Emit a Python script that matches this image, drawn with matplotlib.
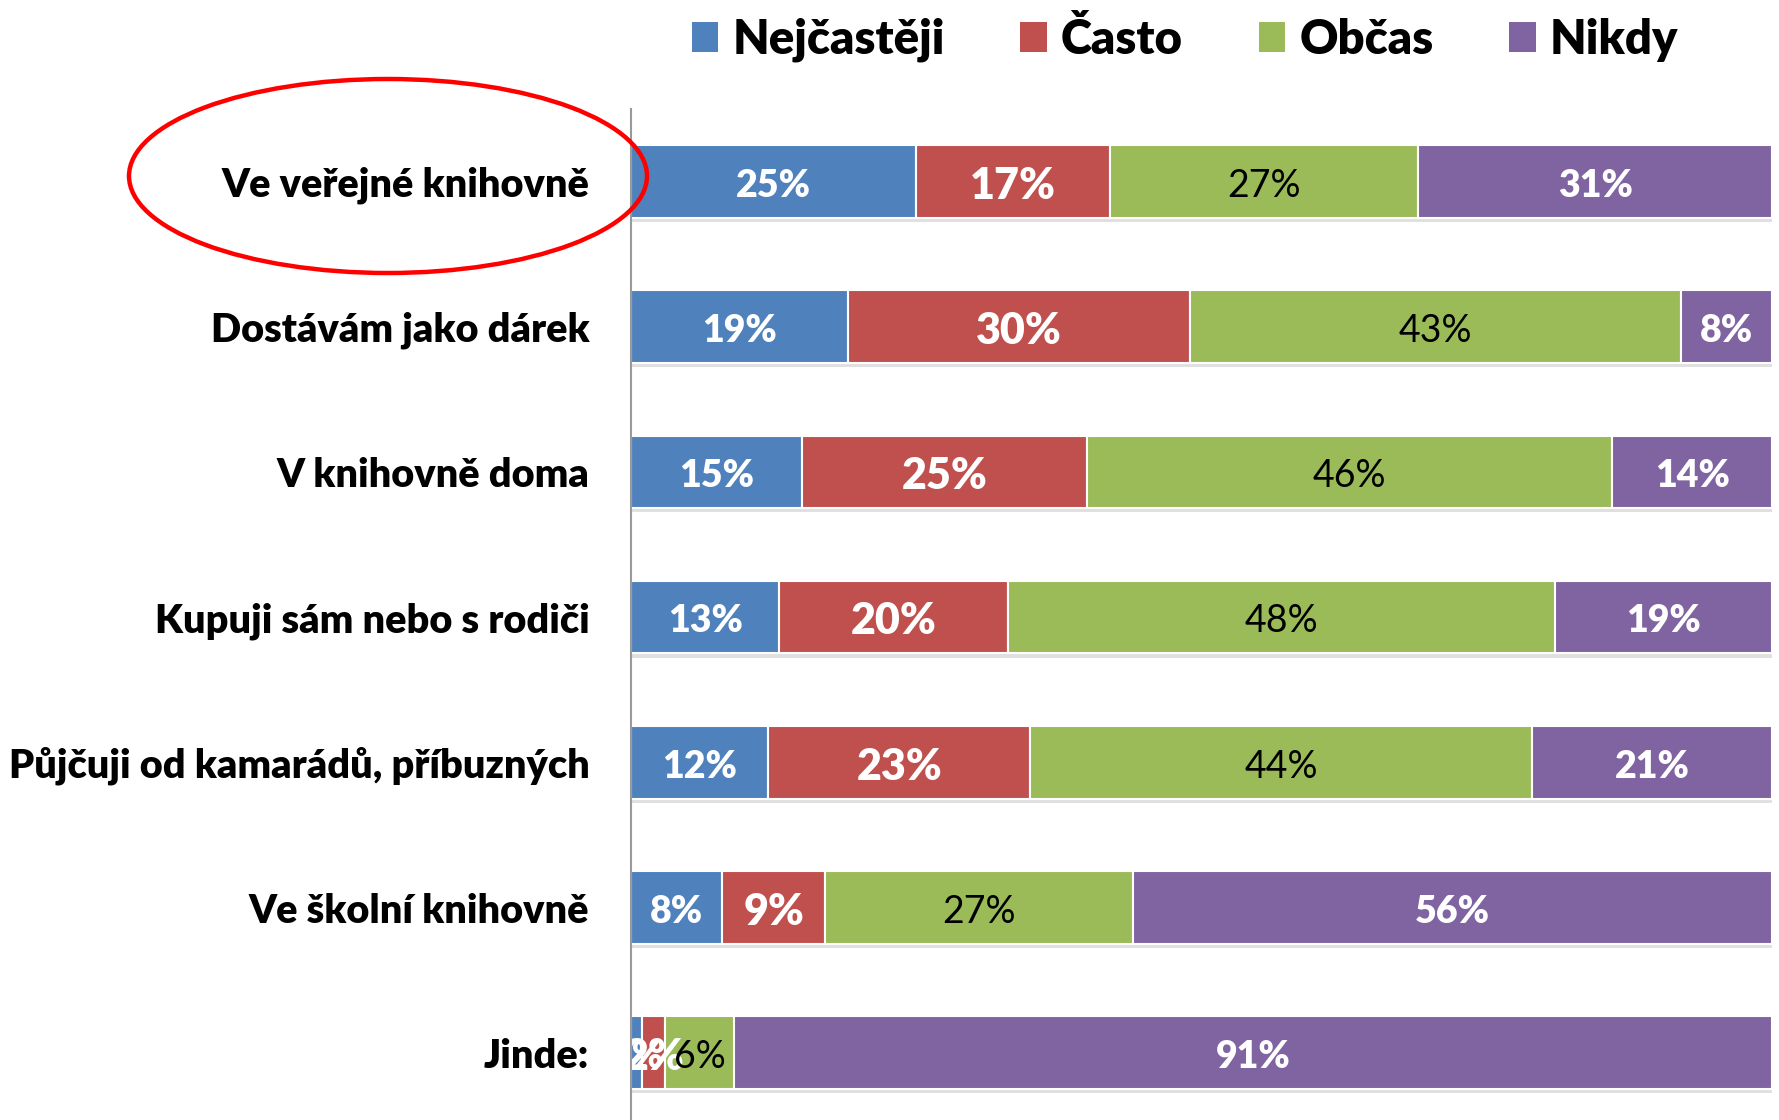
import matplotlib
matplotlib.use('Agg')
import matplotlib.pyplot as plt
import matplotlib.patheffects as pe
from matplotlib.patches import Patch, Ellipse
import numpy as np

plt.rcParams['font.family'] = ['Lato', 'DejaVu Sans']

categories = ['Ve veřejné knihovně', 'Dostávám jako dárek', 'V knihovně doma',
              'Kupuji sám nebo s rodiči', 'Půjčuji od kamarádů, příbuzných',
              'Ve školní knihovně', 'Jinde:']
series_names = ['Nejčastěji', 'Často', 'Občas', 'Nikdy']
nejcasteji = [25, 19, 15, 13, 12, 8, 1]
casto = [17, 30, 25, 20, 23, 9, 2]
obcas = [27, 43, 46, 48, 44, 27, 6]
nikdy = [31, 8, 14, 19, 21, 56, 91]

colors = ['#4F81BD', '#C0504D', '#9BBB59', '#8064A2']
label_style = [('white', 27, 'heavy'), ('white', 31, 'heavy'),
               ('black', 27, 'normal'), ('white', 27, 'heavy')]

fig = plt.figure(figsize=(17.79, 11.2), dpi=100)
ax = fig.add_axes([631/1779, 0, (1772-631)/1779, 1011/1120])

y = np.arange(len(categories))
left = np.zeros(len(categories))
shadow = [pe.SimplePatchShadow(offset=(0, -3), shadow_rgbFace='#999999', alpha=0.3), pe.Normal()]
for name, vals, col, (tc, fs, fw) in zip(series_names, [nejcasteji, casto, obcas, nikdy], colors, label_style):
    bars = ax.barh(y, vals, left=left, height=0.5, color=col, edgecolor='white',
                   linewidth=1.5, label=name, path_effects=shadow)
    anns = ax.bar_label(bars, labels=[f'{v}%' for v in vals], label_type='center',
                        color=tc, fontsize=fs, fontweight=fw)
    for a in anns:
        a.xyann = (0, -3)
    left += np.array(vals)

ax.set_xlim(0, 100)
ax.set_ylim(6.463, -0.5)
ax.set_yticks(y)
ax.set_yticklabels(categories, fontsize=28.5, fontweight='heavy')
ax.tick_params(axis='y', length=0, pad=30)
ax.set_xticks([])
for s in ['top', 'right', 'bottom']:
    ax.spines[s].set_visible(False)
ax.spines['left'].set_color('#999999')
ax.spines['left'].set_linewidth(1.5)
ax.spines['left'].set_zorder(5)

handles = [Patch(facecolor=c, edgecolor='none') for c in colors]
fig.legend(handles, series_names, loc='center', bbox_to_anchor=(1185/1779, 1 - 40/1120),
           ncol=4, frameon=False, prop={'weight': 'heavy', 'size': 34},
           handlelength=0.56, handleheight=0.62, handletextpad=0.3, columnspacing=1.6)

ell = Ellipse((388/1779, 1 - 176/1120), 518/1779, 194/1120, transform=fig.transFigure,
              fill=False, edgecolor='#FF0000', linewidth=3.2, zorder=10)
fig.add_artist(ell)

fig.savefig('out.png', dpi=100)
